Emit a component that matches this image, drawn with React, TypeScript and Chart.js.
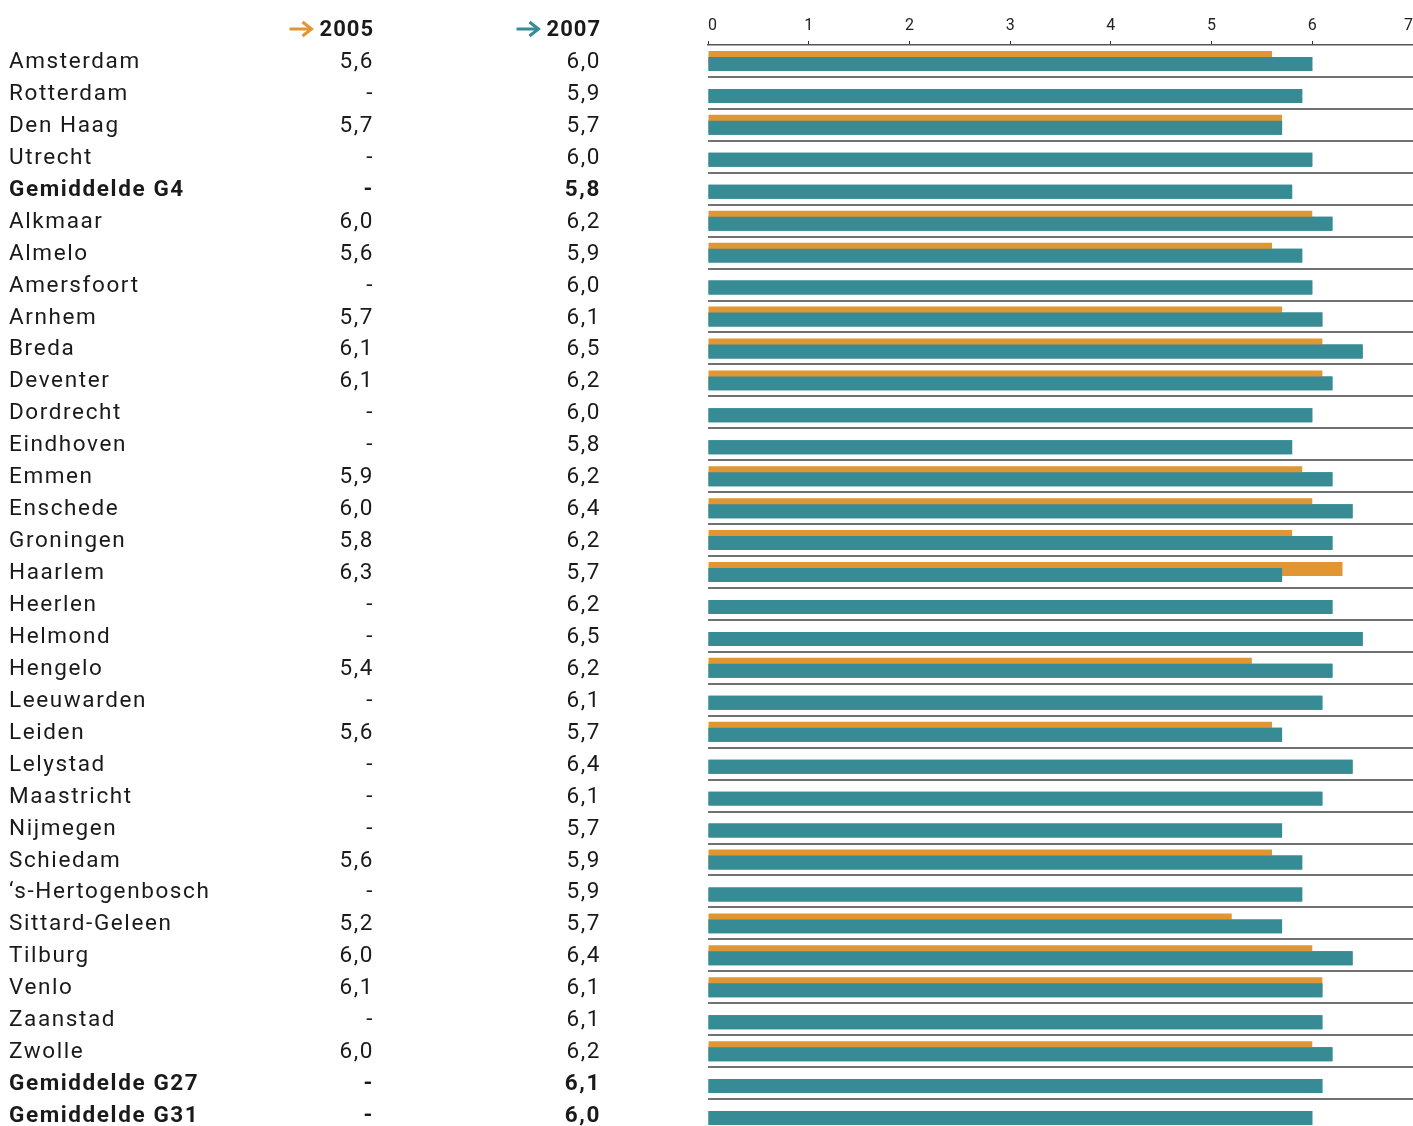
import { useEffect, useRef } from "react";
import { Chart, registerables } from "chart.js";

Chart.register(...registerables);

// Rapportcijfers per gemeente, 2005 en 2007 (null = geen meting)
const cities = [
  "Amsterdam",
  "Rotterdam",
  "Den Haag",
  "Utrecht",
  "Gemiddelde G4",
  "Alkmaar",
  "Almelo",
  "Amersfoort",
  "Arnhem",
  "Breda",
  "Deventer",
  "Dordrecht",
  "Eindhoven",
  "Emmen",
  "Enschede",
  "Groningen",
  "Haarlem",
  "Heerlen",
  "Helmond",
  "Hengelo",
  "Leeuwarden",
  "Leiden",
  "Lelystad",
  "Maastricht",
  "Nijmegen",
  "Schiedam",
  "\u2018s-Hertogenbosch",
  "Sittard-Geleen",
  "Tilburg",
  "Venlo",
  "Zaanstad",
  "Zwolle",
  "Gemiddelde G27",
  "Gemiddelde G31",
];

const scores2005: (number | null)[] = [
  5.6, null, 5.7, null, null, 6.0, 5.6, null, 5.7, 6.1, 6.1, null, null, 5.9,
  6.0, 5.8, 6.3, null, null, 5.4, null, 5.6, null, null, null, 5.6, null, 5.2,
  6.0, 6.1, null, 6.0, null, null,
];

const scores2007: number[] = [
  6.0, 5.9, 5.7, 6.0, 5.8, 6.2, 5.9, 6.0, 6.1, 6.5, 6.2, 6.0, 5.8, 6.2, 6.4,
  6.2, 5.7, 6.2, 6.5, 6.2, 6.1, 5.7, 6.4, 6.1, 5.7, 5.9, 5.9, 5.7, 6.4, 6.1,
  6.1, 6.2, 6.1, 6.0,
];

const averageRows = ["Gemiddelde G4", "Gemiddelde G27", "Gemiddelde G31"];
const yearLabels = ["2005", "2007"];
const axisMin = 0;
const axisMax = 7;

const ORANGE = "#E09733";
const TEAL = "#368B95";
const TEXT = "#1a1a1a";
const FONT = "Roboto, 'Noto Sans', sans-serif";

const fmt = (v: number | null) =>
  v === null ? "-" : v.toFixed(1).replace(".", ",");

// The 2007 bars overlap the 2005 bars; paint them once more so they sit on top.
const tealOnTop = {
  id: "tealOnTop",
  afterDatasetsDraw(chart: any) {
    const meta = chart.getDatasetMeta(1);
    const { ctx, chartArea } = chart;
    ctx.save();
    ctx.beginPath();
    ctx.rect(chartArea.left, chartArea.top, chartArea.right - chartArea.left, chartArea.bottom - chartArea.top);
    ctx.clip();
    meta.controller.draw();
    ctx.restore();
  },
};

function drawArrow(ctx: CanvasRenderingContext2D, right: number, y: number, color: string) {
  const len = 23;
  const head = 8;
  ctx.save();
  ctx.strokeStyle = color;
  ctx.lineWidth = 3;
  ctx.lineCap = "butt";
  ctx.lineJoin = "miter";
  ctx.beginPath();
  ctx.moveTo(right - len, y);
  ctx.lineTo(right - 2, y);
  ctx.stroke();
  ctx.beginPath();
  ctx.moveTo(right - head - 2, y - 7);
  ctx.lineTo(right - 1, y);
  ctx.lineTo(right - head - 2, y + 7);
  ctx.stroke();
  ctx.restore();
}

// Table with city names and both scores, aligned to the bar rows.
const tablePlugin = {
  id: "scoreTable",
  afterDraw(chart: any) {
    const { ctx } = chart;
    const yScale = chart.scales.y;
    const colRight = [374, 601];
    const colors = [ORANGE, TEAL];

    ctx.save();
    ctx.fillStyle = TEXT;
    ctx.textBaseline = "alphabetic";

    // column headers
    ctx.font = `700 22px ${FONT}`;
    ctx.letterSpacing = "1px";
    ctx.textAlign = "right";
    yearLabels.forEach((label, k) => {
      ctx.fillText(label, colRight[k], 36);
      const w = ctx.measureText(label).width;
      drawArrow(ctx, colRight[k] - w - 7, 29, colors[k]);
    });

    ctx.letterSpacing = "1.6px";
    cities.forEach((name, i) => {
      const cy = yScale.getPixelForValue(i);
      const bold = averageRows.includes(name);
      ctx.font = `${bold ? 700 : 400} 22.5px ${FONT}`;
      const base = cy + 7;
      ctx.textAlign = "left";
      ctx.fillText(name, 9, base);
      ctx.textAlign = "right";
      ctx.fillText(fmt(scores2005[i]), colRight[0], base);
      ctx.fillText(fmt(scores2007[i]), colRight[1], base);
    });
    ctx.restore();
  },
};

export default function App() {
  const canvasRef = useRef<HTMLCanvasElement | null>(null);

  useEffect(() => {
    const canvas = canvasRef.current;
    if (!canvas) return;
    const chart = new Chart(canvas, {
      type: "bar",
      data: {
        labels: cities,
        datasets: [
          {
            label: yearLabels[0],
            data: scores2005,
            backgroundColor: ORANGE,
            borderWidth: 0,
          },
          {
            label: yearLabels[1],
            data: scores2007,
            backgroundColor: TEAL,
            borderWidth: 0,
          },
        ],
      },
      options: {
        indexAxis: "y",
        responsive: false,
        animation: false,
        events: [],
        datasets: {
          bar: {
            categoryPercentage: 0.375,
            barPercentage: 7 / 3,
          },
        },
        layout: { padding: { left: 708, right: 1, top: 0, bottom: 0 } },
        plugins: {
          legend: { display: false },
          tooltip: { enabled: false },
        },
        scales: {
          x: {
            position: "top",
            min: axisMin,
            max: axisMax,
            ticks: {
              stepSize: 1,
              align: "inner",
              padding: 5,
              color: "#222",
              font: { family: FONT, size: 16 },
            },
            grid: {
              drawOnChartArea: false,
              drawTicks: true,
              tickLength: 4,
              color: "#333",
              lineWidth: 1,
            },
            border: { display: true, color: "#555", width: 1.5 },
            afterFit: (scale: any) => {
              scale.height = 45;
            },
          },
          y: {
            ticks: { display: false },
            border: { display: false },
            grid: {
              offset: true,
              drawTicks: false,
              lineWidth: 2,
              color: (c: any) => (c.index === 0 ? "rgba(0,0,0,0)" : "#717171"),
            },
            afterFit: (scale: any) => {
              scale.width = 0;
            },
          },
        },
      },
      plugins: [tealOnTop, tablePlugin],
    } as any);
    return () => chart.destroy();
  }, []);

  return (
    <div
      style={{
        position: "absolute",
        left: 0,
        top: 0,
        width: 1413,
        height: 1126,
        overflow: "hidden",
        background: "#fff",
      }}
    >
      <canvas ref={canvasRef} width={1418} height={1131} style={{ display: "block" }} />
    </div>
  );
}
